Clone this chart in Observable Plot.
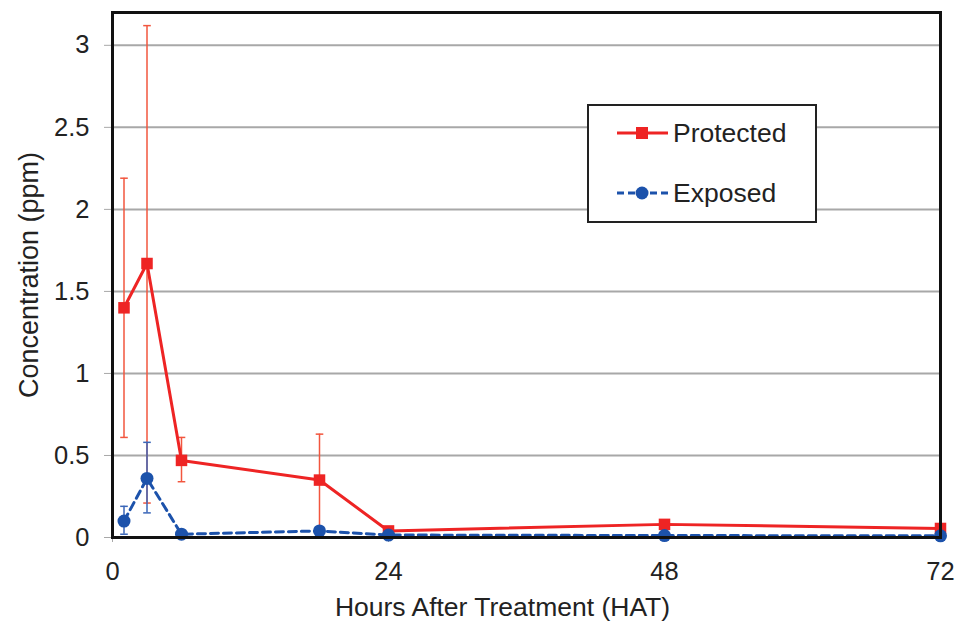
<!DOCTYPE html>
<html>
<head>
<meta charset="utf-8">
<script src="https://cdn.jsdelivr.net/npm/d3@7"></script>
<script src="https://cdn.jsdelivr.net/npm/@observablehq/plot@0.6"></script>
<style>
  html, body { margin: 0; padding: 0; background: #fff; }
  #wrap { position: relative; width: 967px; height: 622px; font-family: "Liberation Sans", Arial, sans-serif; }
  #legend { position: absolute; left: 587px; top: 104px; width: 230px; height: 119px; border: 2px solid #222; background: #fff; box-sizing: border-box; }
  .lg { position: absolute; left: 0; height: 30px; width: 226px; font-size: 26.5px; line-height: 30px; color: #222; }
  .lg svg { position: absolute; left: 27px; top: 5px; }
  .lg span { position: absolute; left: 84px; top: 0; }
</style>
</head>
<body>
<div id="wrap"></div>
<script>
const hours = [1, 3, 6, 18, 24, 48, 72];
const protectedMean = [1.40, 1.67, 0.47, 0.35, 0.04, 0.08, 0.055];
const protectedLow  = [0.61, 0.21, 0.34, 0.05, null, null, null];
const protectedHigh = [2.19, 3.12, 0.61, 0.63, null, null, null];
const exposedMean = [0.10, 0.36, 0.02, 0.04, 0.015, 0.012, 0.01];
const exposedLow  = [0.02, 0.15, null, null, null, null, null];
const exposedHigh = [0.19, 0.58, null, null, null, null, null];
const xTicks = [0, 24, 48, 72];
const yTicks = [0, 0.5, 1, 1.5, 2, 2.5, 3];
const yTickLabels = ["0", "0.5", "1", "1.5", "2", "2.5", "3"];
const xTitle = "Hours After Treatment (HAT)";
const yTitle = "Concentration (ppm)";

const RED = "#ee2424", RED_ERR = "#f2563e";
const BLUE = "#1c52ab", BLUE_ERR = "#3a66b8";

const prot = hours.map((h, i) => ({h, v: protectedMean[i], lo: protectedLow[i], hi: protectedHigh[i]}));
const expo = hours.map((h, i) => ({h, v: exposedMean[i], lo: exposedLow[i], hi: exposedHigh[i]}));
const protErr = prot.filter(d => d.lo != null);
const expoErr = expo.filter(d => d.lo != null);
const capSymbol = {draw(ctx, size) { const r = Math.sqrt(size / Math.PI); ctx.moveTo(-r, 0); ctx.lineTo(r, 0); }};

const chart = Plot.plot({
  width: 967, height: 622,
  marginLeft: 112, marginRight: 27, marginTop: 12, marginBottom: 85,
  style: {fontFamily: '"Liberation Sans", Arial, sans-serif', fontSize: "25.5px", color: "#222", background: "#fff"},
  x: {domain: [0, 72]},
  y: {domain: [0, 3.2]},
  marks: [
    Plot.gridY(yTicks, {stroke: "#a8a8a8", strokeOpacity: 1, strokeWidth: 2}),
    Plot.axisY(yTicks, {tickFormat: (d, i) => yTickLabels[i], tickSize: 8, stroke: "#a8a8a8", tickPadding: 15,
      label: null, fontSize: 25.5}),
    Plot.axisX(xTicks, {tickSize: 5, stroke: "#a8a8a8", tickPadding: 19, label: null, fontSize: 25.5}),
    Plot.text([yTitle], {frameAnchor: "left", rotate: -90, dx: -83, text: d => d, fontSize: 27, fill: "#222",
      textAnchor: "middle", lineAnchor: "middle"}),
    Plot.text([xTitle], {frameAnchor: "bottom", dx: -24, dy: 70, text: d => d, fontSize: 26.5, fill: "#222",
      textAnchor: "middle", lineAnchor: "middle"}),
    Plot.ruleX(protErr, {x: "h", y1: "lo", y2: "hi", stroke: RED_ERR, strokeWidth: 1.5}),
    Plot.dot(protErr, {x: "h", y: "lo", symbol: capSymbol, r: 3.8, stroke: RED_ERR, strokeWidth: 1.5, fill: "none"}),
    Plot.dot(protErr, {x: "h", y: "hi", symbol: capSymbol, r: 3.8, stroke: RED_ERR, strokeWidth: 1.5, fill: "none"}),
    Plot.ruleX(expoErr, {x: "h", y1: "lo", y2: "hi", stroke: BLUE_ERR, strokeWidth: 1.5}),
    Plot.dot(expoErr, {x: "h", y: "lo", symbol: capSymbol, r: 3.8, stroke: BLUE_ERR, strokeWidth: 1.5, fill: "none"}),
    Plot.dot(expoErr, {x: "h", y: "hi", symbol: capSymbol, r: 3.8, stroke: BLUE_ERR, strokeWidth: 1.5, fill: "none"}),
    Plot.line(prot, {x: "h", y: "v", stroke: RED, strokeWidth: 3}),
    Plot.dot(prot, {x: "h", y: "v", symbol: "square", r: 6.5, fill: RED, stroke: "none"}),
    Plot.line(expo, {x: "h", y: "v", stroke: BLUE, strokeWidth: 3, strokeDasharray: "8,5"}),
    Plot.dot(expo, {x: "h", y: "v", symbol: "circle", r: 6.5, fill: BLUE, stroke: "none"}),
    Plot.frame({stroke: "#111", strokeWidth: 3})
  ]
});

const wrap = document.getElementById("wrap");
wrap.appendChild(chart);

const legend = document.createElement("div");
legend.id = "legend";
legend.innerHTML = `
  <div class="lg" style="top:12px">
    <svg width="54" height="20"><line x1="1" y1="10" x2="52" y2="10" stroke="${RED}" stroke-width="3"/><rect x="20" y="4" width="12" height="12" fill="${RED}"/></svg><span>Protected</span></div>
  <div class="lg" style="top:72px">
    <svg width="54" height="20"><line x1="1" y1="10" x2="52" y2="10" stroke="${BLUE}" stroke-width="3" stroke-dasharray="7,4"/><circle cx="26" cy="10" r="6.5" fill="${BLUE}"/></svg><span>Exposed</span></div>`;
wrap.appendChild(legend);
</script>
</body>
</html>
